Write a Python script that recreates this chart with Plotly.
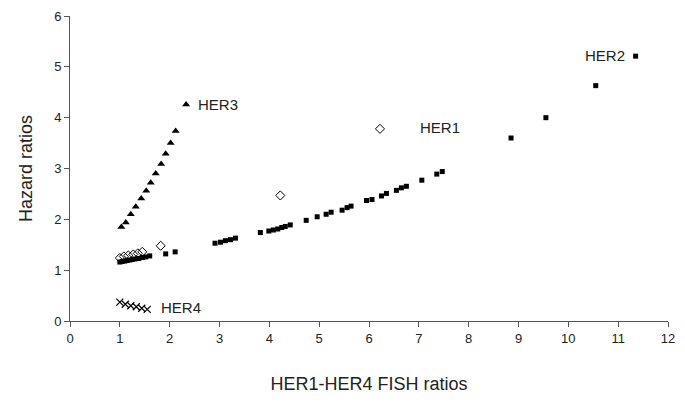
import plotly.graph_objects as go

# HER2 (filled squares)
her2_x = [1.0, 1.05, 1.1, 1.15, 1.2, 1.25, 1.3, 1.38, 1.45, 1.52, 1.6, 1.92, 2.11,
          2.91, 3.02, 3.12, 3.22, 3.32, 3.82, 3.99, 4.08, 4.17, 4.25, 4.32, 4.42,
          4.74, 4.96, 5.14, 5.24, 5.46, 5.56, 5.64, 5.95, 6.06, 6.25, 6.35, 6.55,
          6.65, 6.75, 7.06, 7.36, 7.47, 8.85, 9.55, 10.55, 11.35]
her2_y = [1.16, 1.17, 1.18, 1.19, 1.2, 1.21, 1.22, 1.23, 1.25, 1.26, 1.28, 1.32, 1.36,
          1.53, 1.55, 1.58, 1.6, 1.63, 1.74, 1.77, 1.79, 1.81, 1.84, 1.86, 1.89,
          1.98, 2.05, 2.1, 2.14, 2.18, 2.23, 2.26, 2.37, 2.39, 2.46, 2.51, 2.57,
          2.62, 2.65, 2.77, 2.89, 2.94, 3.6, 4.0, 4.63, 5.21]

# HER3 (filled triangles)
her3_x = [1.03, 1.12, 1.22, 1.32, 1.43, 1.53, 1.62, 1.72, 1.83, 1.92, 2.02, 2.12, 2.33]
her3_y = [1.85, 1.94, 2.1, 2.25, 2.41, 2.56, 2.72, 2.9, 3.09, 3.29, 3.5, 3.74, 4.26]

# HER1 (open diamonds)
her1_x = [1.0, 1.08, 1.17, 1.27, 1.36, 1.45, 1.82, 4.22, 6.22]
her1_y = [1.24, 1.27, 1.29, 1.31, 1.33, 1.36, 1.48, 2.47, 3.78]

# HER4 (crosses)
her4_x = [1.0, 1.11, 1.22, 1.33, 1.44, 1.55]
her4_y = [0.37, 0.33, 0.3, 0.28, 0.25, 0.23]

labels = ["HER1", "HER2", "HER3", "HER4"]
label_x = [6.98, 11.17, 2.52, 1.78]
label_y = [3.8, 5.22, 4.26, 0.27]
label_anchor = ["left", "right", "left", "left"]

fig = go.Figure()
fig.add_trace(go.Scatter(x=her2_x, y=her2_y, mode="markers",
                         marker=dict(symbol="square", size=5, color="black")))
fig.add_trace(go.Scatter(x=her3_x, y=her3_y, mode="markers",
                         marker=dict(symbol="triangle-up", size=7, color="black")))
fig.add_trace(go.Scatter(x=her1_x, y=her1_y, mode="markers",
                         marker=dict(symbol="diamond-open", size=7, color="black",
                                     line=dict(width=1))))
fig.add_trace(go.Scatter(x=her4_x, y=her4_y, mode="markers",
                         marker=dict(symbol="x-thin-open", size=7, color="black",
                                     line=dict(width=1.2, color="black"))))

for t, x, y, a in zip(labels, label_x, label_y, label_anchor):
    fig.add_annotation(x=x, y=y, text=t, showarrow=False, xanchor=a,
                       font=dict(size=15, color="#222"))

axis_style = dict(showgrid=False, zeroline=False, showline=True, linecolor="#555",
                  linewidth=1, ticks="outside", ticklen=5, tickcolor="#555",
                  automargin=False, ticklabeloverflow="allow",
                  tickfont=dict(size=13, color="#222"))

fig.update_xaxes(range=[0, 12], dtick=1, **axis_style,
                 title=dict(text="HER1-HER4 FISH ratios", font=dict(size=18, color="#222"),
                            standoff=32))
fig.update_yaxes(range=[0, 6], dtick=1, **axis_style,
                 title=dict(text="Hazard ratios", font=dict(size=18, color="#222"),
                            standoff=16))

# page body adds an 8px offset, margins compensate for it
fig.update_layout(
    width=685, height=403,
    margin=dict(l=62, r=25, t=8, b=90),
    plot_bgcolor="white", paper_bgcolor="white",
    showlegend=False,
    font=dict(family="Liberation Sans, Arial, sans-serif"),
)

fig.write_html("out.html")
